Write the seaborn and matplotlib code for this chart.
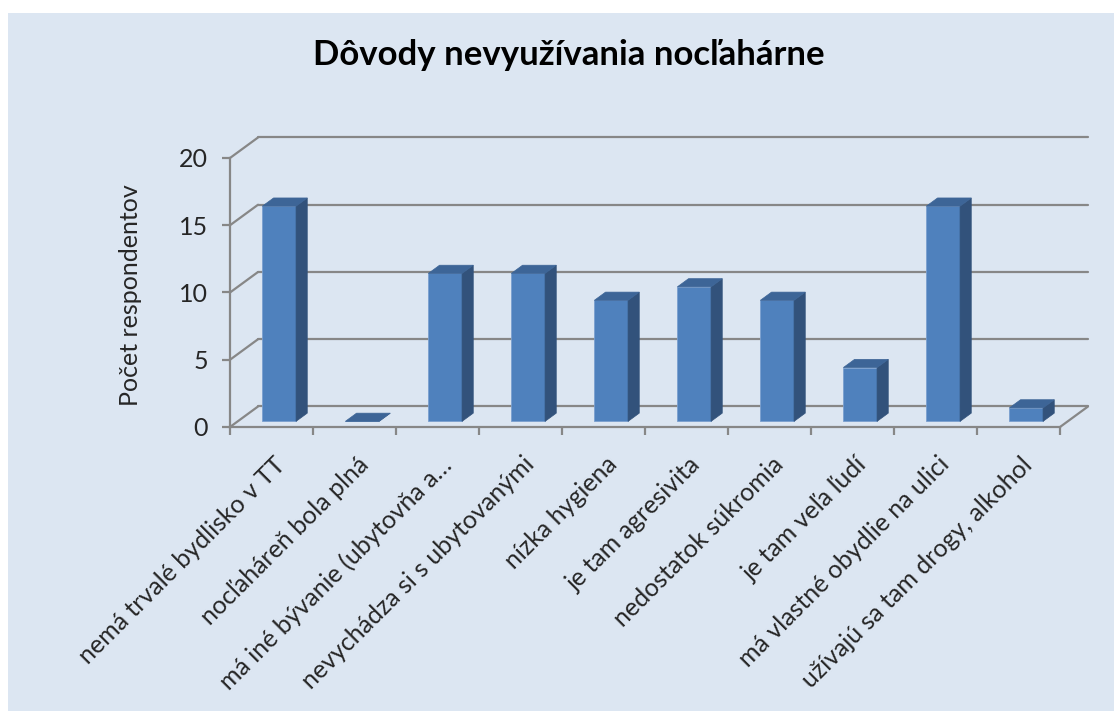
import numpy as np
import pandas as pd
import matplotlib
matplotlib.use("Agg")
import matplotlib.pyplot as plt
import seaborn as sns
from matplotlib.patches import Polygon, Rectangle
from matplotlib.lines import Line2D
from matplotlib.transforms import ScaledTranslation

# ---- data ----
categories = [
    "nemá trvalé bydlisko v TT",
    "nocľaháreň bola plná",
    "má iné bývanie (ubytovňa a…",
    "nevychádza si s ubytovanými",
    "nízka hygiena",
    "je tam agresivita",
    "nedostatok súkromia",
    "je tam veľa ľudí",
    "má vlastné obydlie na ulici",
    "užívajú sa tam drogy, alkohol",
]
values = [16, 0, 11, 11, 9, 10, 9, 4, 16, 1]
yticks = [0, 5, 10, 15, 20]
title = "Dôvody nevyužívania nocľahárne"
ylabel = "Počet respondentov"

# ---- style ----
BG = "#DCE6F2"
FRONT = "#4F81BD"
SIDE = "#32527B"
TOP = "#3D6597"
GRID = "#878787"
FS = 18

sns.set_theme(style="white")
plt.rcParams['font.family'] = ['Lato', 'DejaVu Sans']

W, H = 1114, 711
fig = plt.figure(figsize=(W / 100, H / 100), dpi=100, facecolor="white")
fig.patches.append(Rectangle((8 / W, 0), 1 - 8 / W, 1 - 13 / H,
                             transform=fig.transFigure, facecolor=BG,
                             edgecolor="none", zorder=-5))

ax = fig.add_axes([230 / W, 1 - 427 / H, 830 / W, (427 - 158) / H])
ax.set_facecolor("none")
ax.set_zorder(1)

df = pd.DataFrame({"cat": categories, "val": values})
sns.barplot(data=df, x="cat", y="val", ax=ax, color=FRONT, saturation=1,
            width=0.406, edgecolor="#7A9FCF", linewidth=0.6, zorder=3)
ax.set_xlim(-0.5, len(categories) - 0.5)
ax.set_ylim(0, 20)

# depth projection in data units
px_x = 830 / len(categories)
px_y = (427 - 158) / 20
DX, DY = 28.0, 20.5
ddx, ddy = DX / px_x, DY / px_y
d0, d1 = 0.275, 0.675

xl0, xl1 = -0.5, len(categories) - 0.5
# back wall grid + left wall diagonals
for v in yticks:
    ax.add_line(Line2D([xl0 + ddx, xl1 + ddx], [v + ddy, v + ddy], color=GRID,
                       lw=1.6, clip_on=False, zorder=1))
    ax.add_line(Line2D([xl0, xl0 + ddx], [v, v + ddy], color=GRID,
                       lw=1.6, clip_on=False, zorder=1))
# floor right edge
ax.add_line(Line2D([xl1, xl1 + ddx], [0, ddy], color=GRID, lw=1.6,
                   clip_on=False, zorder=1))

# 3D bars
for p in list(ax.patches):
    x0 = p.get_x()
    w = p.get_width()
    h = p.get_height()
    fx0 = x0 + d0 * ddx
    fy0 = d0 * ddy
    p.set_x(fx0)
    p.set_y(fy0)
    p.set_clip_on(False)
    sx, sy = (d1 - d0) * ddx, (d1 - d0) * ddy
    side = Polygon([(fx0 + w, fy0), (fx0 + w, fy0 + h), (fx0 + w + sx, fy0 + h + sy),
                    (fx0 + w + sx, fy0 + sy)], closed=True, facecolor=SIDE,
                   edgecolor=SIDE, lw=0.5, clip_on=False, zorder=3)
    top = Polygon([(fx0, fy0 + h), (fx0 + w, fy0 + h), (fx0 + w + sx, fy0 + h + sy),
                   (fx0 + sx, fy0 + h + sy)], closed=True, facecolor=TOP,
                  edgecolor=TOP, lw=0.5, clip_on=False, zorder=3)
    ax.add_patch(side)
    ax.add_patch(top)

# axes styling
for s in ["top", "right"]:
    ax.spines[s].set_visible(False)
for s in ["left", "bottom"]:
    ax.spines[s].set_color(GRID)
    ax.spines[s].set_linewidth(1.6)
    ax.spines[s].set_zorder(2)

ax.set_yticks(yticks)
ax.set_yticklabels([str(v) for v in yticks])
ax.tick_params(axis="y", direction="out", length=6, width=1.6, color=GRID,
               labelsize=FS, pad=10, left=True)
ax.set_xticks(np.arange(len(categories)))
ax.set_xticklabels(categories, rotation=45, ha="right", va="top",
                   rotation_mode="anchor")
ax.set_xticks(np.arange(len(categories) + 1) - 0.5, minor=True)
ax.tick_params(axis="x", which="major", length=0, labelsize=FS, pad=18.5)
ax.tick_params(axis="x", which="minor", direction="out", length=6, width=1.6,
               color=GRID, bottom=True)
shift = ScaledTranslation(0.02, 0, fig.dpi_scale_trans)
for lab in ax.get_xticklabels():
    lab.set_transform(lab.get_transform() + shift)
ax.set_xlabel("")
ax.set_ylabel(ylabel, fontsize=FS)
ax.yaxis.set_label_coords(-0.106, 0.489)

fig.text(569 / W, 1 - 65 / H, title, ha="center", va="baseline",
         fontsize=25, fontweight="bold", color="black")

fig.savefig("out.png", dpi=100, facecolor="white")
